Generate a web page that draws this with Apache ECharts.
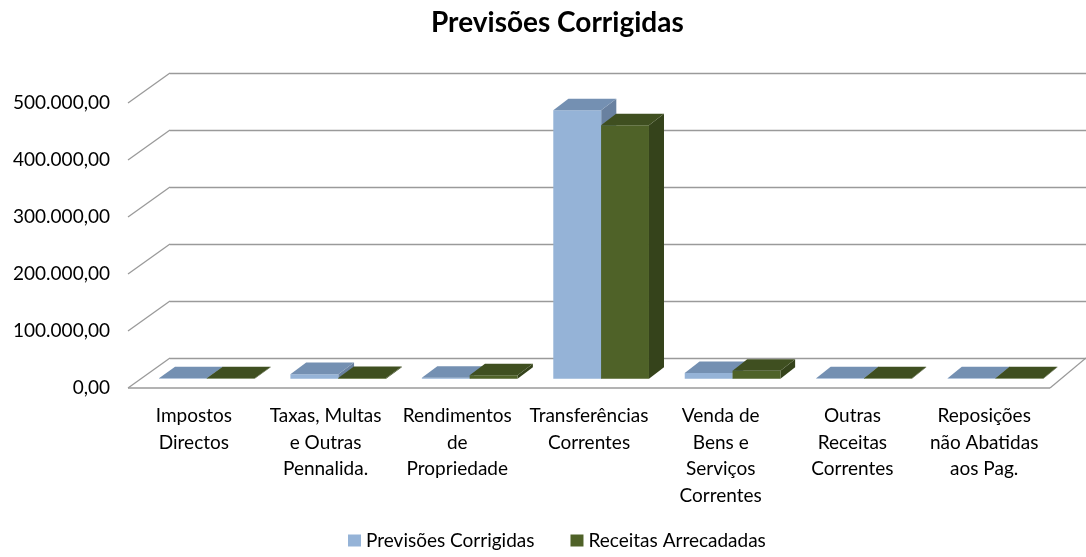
<!DOCTYPE html>
<html>
<head>
<meta charset="utf-8">
<script src="https://cdn.jsdelivr.net/npm/echarts@6/dist/echarts.min.js"></script>
<style>
html,body{margin:0;padding:0;background:#fff;}
#chart{width:1086px;height:557px;}
</style>
</head>
<body>
<div id="chart"></div>
<script>
// ---- data ----
const categories = [
  'Impostos\nDirectos',
  'Taxas, Multas\ne Outras\nPennalida.',
  'Rendimentos\nde\nPropriedade',
  'Transferências\nCorrentes',
  'Venda de\nBens e\nServiços\nCorrentes',
  'Outras\nReceitas\nCorrentes',
  'Reposições\nnão Abatidas\naos Pag.'
];
const previsoesCorrigidas = [600, 8000, 1500, 471000, 10000, 300, 300];
const receitasArrecadadas = [400, 1200, 6000, 444500, 14000, 200, 200];
const yTicks = [0, 100000, 200000, 300000, 400000, 500000];
const seriesNames = ['Previsões Corrigidas', 'Receitas Arrecadadas'];
const titleText = 'Previsões Corrigidas';

// ---- styling / 3D layout constants ----
const FONT = 'Lato, "Open Sans", sans-serif';
const FRONT = {left: 128, right: 36, top: 103, bottom: 169};
const DX_L = 42, DX_R = 36, DY = -30;
const F0 = 0.31, F1 = 0.695;
const BAR_RATIO = 48 / 132;
const GRID_COLOR = '#9a9a9a';
const COLORS = [
  {front: '#95B3D7', top: '#7490B2', side: '#6981A0'},
  {front: '#4F6228', top: '#3F4F20', side: '#35431B'}
];

function fmt(v) {
  const s = Math.round(v).toString().replace(/\B(?=(\d{3})+(?!\d))/g, '.');
  return s + ',00';
}

function dxAt(x, cs) {
  return DX_L + (DX_R - DX_L) * (x - cs.x) / cs.width;
}

function barRender(idx) {
  const col = COLORS[idx];
  return function (params, api) {
    const cs = params.coordSys;
    const i = api.value(0), v = api.value(1);
    const base = api.coord([i, 0]);
    const top = api.coord([i, v]);
    const band = api.size([1, 0])[0];
    const w = band * BAR_RATIO;
    const fx0 = idx === 0 ? base[0] - w : base[0];
    const d = dxAt(fx0, cs);
    const x0 = fx0 + d * F0;
    const yB = base[1] + DY * F0;
    const yT = Math.min(top[1], base[1] - 0.5) + DY * F0;
    const ddx = d * (F1 - F0), ddy = DY * (F1 - F0);
    const x1 = x0 + w;
    return {
      type: 'group',
      children: [
        {type: 'polygon', shape: {points: [[x1, yT], [x1 + ddx, yT + ddy], [x1 + ddx, yB + ddy], [x1, yB]]},
          style: {fill: col.side}},
        {type: 'rect', shape: {x: x0, y: yT, width: w, height: yB - yT},
          style: {fill: col.front}},
        {type: 'polygon', shape: {points: [[x0, yT], [x1, yT], [x1 + ddx, yT + ddy], [x0 + ddx, yT + ddy]]},
          style: {fill: col.top}}
      ]
    };
  };
}

function frameRender(params, api) {
  const cs = params.coordSys;
  const v = api.value(0);
  const y = api.coord([0, v])[1];
  const lx = cs.x;
  const children = [
    {type: 'line', shape: {x1: lx, y1: y, x2: lx + DX_L, y2: y + DY},
      style: {stroke: GRID_COLOR, lineWidth: 1.3}}
  ];
  if (v === 0) {
    const rx = cs.x + cs.width;
    children.push({type: 'line', shape: {x1: lx, y1: y, x2: rx, y2: y},
      style: {stroke: GRID_COLOR, lineWidth: 1.3}});
    children.push({type: 'line', shape: {x1: rx, y1: y, x2: rx + DX_R, y2: y + DY},
      style: {stroke: GRID_COLOR, lineWidth: 1.3}});
  }
  return {type: 'group', children: children};
}

const chart = echarts.init(document.getElementById('chart'), null, {renderer: 'canvas'});
const yMax = yTicks[yTicks.length - 1];
const yInterval = yTicks[1] - yTicks[0];

chart.setOption({
  animation: false,
  backgroundColor: '#ffffff',
  textStyle: {fontFamily: FONT},
  title: {
    text: titleText, left: 426, top: 4,
    textStyle: {fontFamily: FONT, fontSize: 28, fontWeight: 'bold', color: '#000'}
  },
  legend: {
    bottom: 2, left: 343, itemWidth: 13, itemHeight: 12, itemGap: 36,
    icon: 'rect', data: seriesNames,
    textStyle: {fontFamily: FONT, fontSize: 19, color: '#000'}
  },
  grid: [
    {left: FRONT.left, right: FRONT.right, top: FRONT.top, bottom: FRONT.bottom},
    {left: FRONT.left + DX_L, right: FRONT.right - DX_R, top: FRONT.top + DY, bottom: FRONT.bottom - DY}
  ],
  xAxis: [
    {type: 'category', gridIndex: 0, data: categories, boundaryGap: true,
      axisLine: {show: false}, axisTick: {show: false}, splitLine: {show: false},
      axisLabel: {interval: 0, margin: 15, fontFamily: FONT, fontSize: 19, lineHeight: 26.5, color: '#000', align: 'center'}},
    {type: 'category', gridIndex: 1, data: categories, show: false}
  ],
  yAxis: [
    {type: 'value', gridIndex: 0, min: 0, max: yMax, interval: yInterval,
      axisLine: {show: false}, axisTick: {show: false}, splitLine: {show: false},
      axisLabel: {margin: 18, fontFamily: FONT, fontSize: 19, color: '#000', formatter: fmt}},
    {type: 'value', gridIndex: 1, min: 0, max: yMax, interval: yInterval,
      axisLine: {show: false}, axisTick: {show: false}, axisLabel: {show: false},
      splitLine: {show: true, lineStyle: {color: GRID_COLOR, width: 1.3}}}
  ],
  series: [
    {type: 'custom', name: '_frame', xAxisIndex: 0, yAxisIndex: 0, z: 1, silent: true,
      renderItem: frameRender, data: yTicks.map(v => [v]), encode: {y: 0}},
    {type: 'custom', name: seriesNames[0], xAxisIndex: 0, yAxisIndex: 0, z: 3,
      itemStyle: {color: COLORS[0].front},
      renderItem: barRender(0), encode: {x: 0, y: 1},
      data: previsoesCorrigidas.map((v, i) => [i, v])},
    {type: 'custom', name: seriesNames[1], xAxisIndex: 0, yAxisIndex: 0, z: 4,
      itemStyle: {color: COLORS[1].front},
      renderItem: barRender(1), encode: {x: 0, y: 1},
      data: receitasArrecadadas.map((v, i) => [i, v])}
  ]
});
</script>
</body>
</html>
